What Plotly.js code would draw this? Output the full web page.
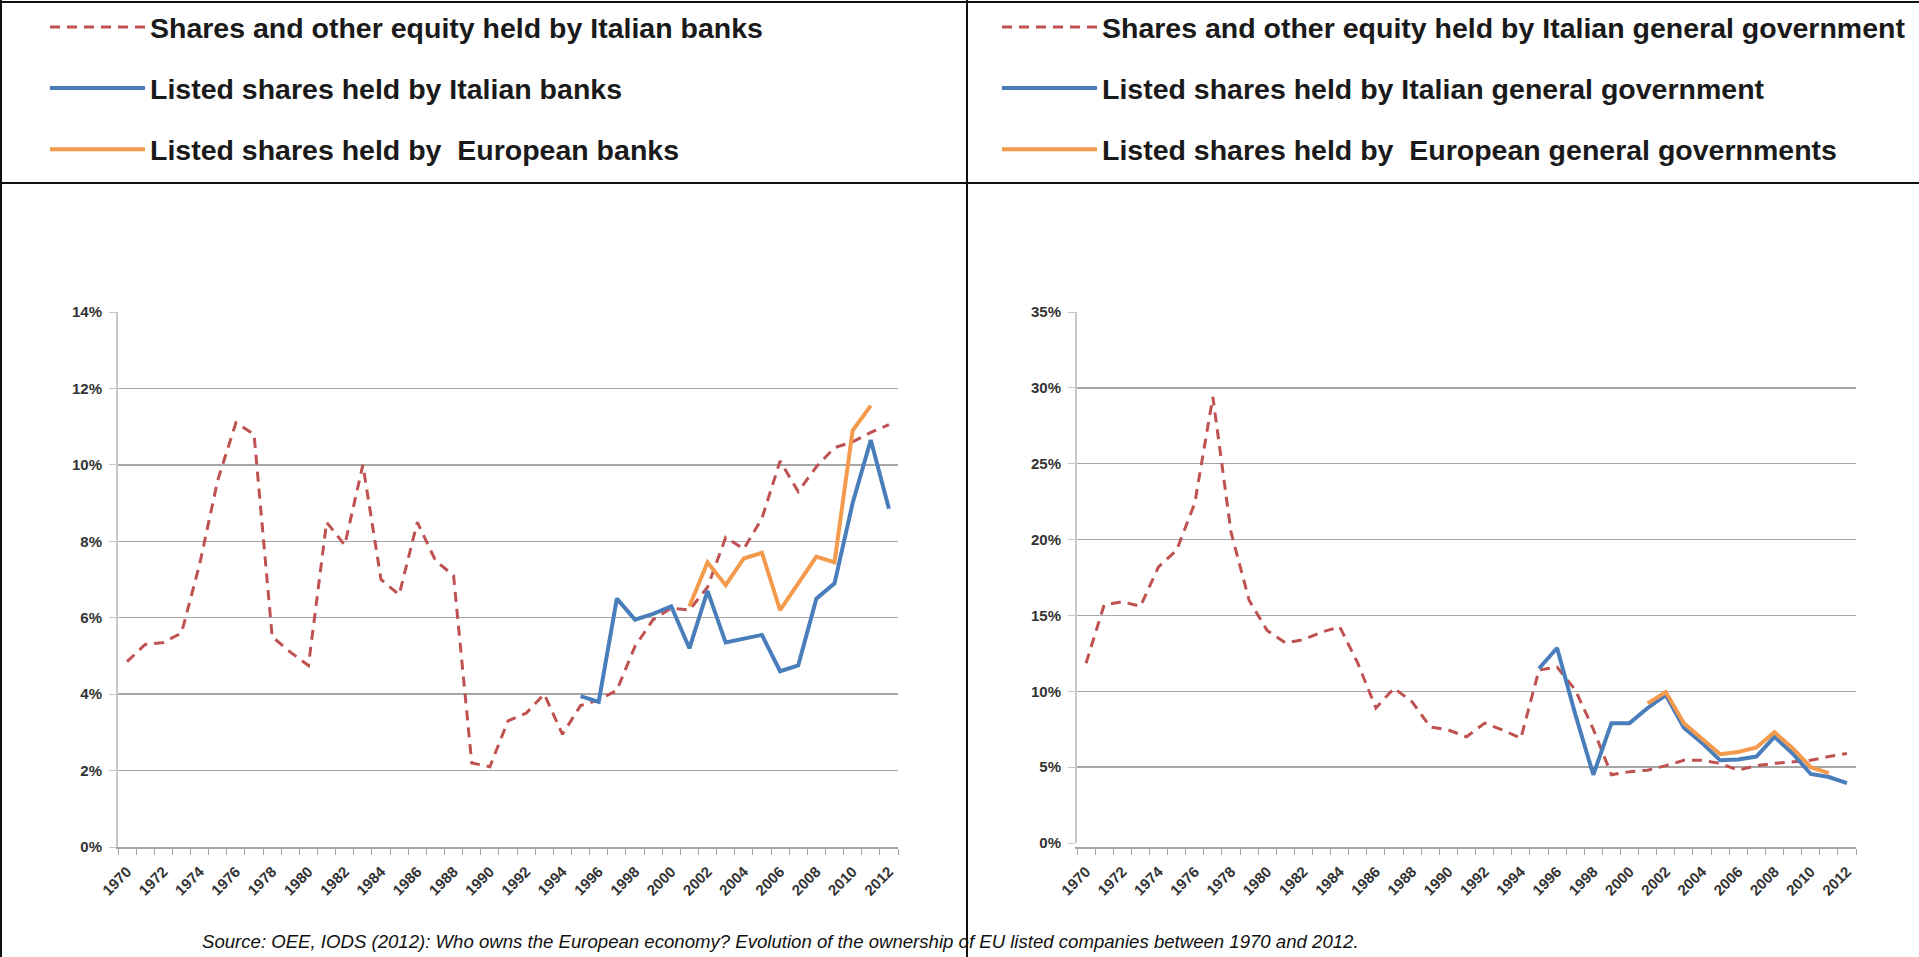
<!DOCTYPE html>
<html>
<head>
<meta charset="utf-8">
<script src="https://cdn.plot.ly/plotly-3.0.1.min.js"></script>
<style>html,body{margin:0;padding:0;background:#fff;}#chart{width:1919px;height:957px;}</style>
</head>
<body>
<div id="chart"></div>
<script>
// ---- Data (values in %) ----
const years = [1970,1971,1972,1973,1974,1975,1976,1977,1978,1979,1980,1981,1982,1983,1984,1985,1986,1987,1988,1989,1990,1991,1992,1993,1994,1995,1996,1997,1998,1999,2000,2001,2002,2003,2004,2005,2006,2007,2008,2009,2010,2011,2012];
const yearTicks = [1970,1972,1974,1976,1978,1980,1982,1984,1986,1988,1990,1992,1994,1996,1998,2000,2002,2004,2006,2008,2010,2012];

// Left panel: banks
const banksEquityIT = [4.85,5.3,5.35,5.6,7.4,9.6,11.1,10.8,5.5,5.1,4.75,8.5,7.9,10.0,7.0,6.6,8.5,7.5,7.1,2.2,2.1,3.3,3.5,4.0,2.95,3.7,3.85,4.1,5.25,5.95,6.25,6.2,6.8,8.1,7.8,8.6,10.1,9.3,9.95,10.45,10.6,10.85,11.05];
const banksListedIT = [null,null,null,null,null,null,null,null,null,null,null,null,null,null,null,null,null,null,null,null,null,null,null,null,null,3.95,3.8,6.5,5.95,6.1,6.3,5.2,6.7,5.35,5.45,5.55,4.6,4.75,6.5,6.9,9.0,10.65,8.85];
const banksListedEU = [null,null,null,null,null,null,null,null,null,null,null,null,null,null,null,null,null,null,null,null,null,null,null,null,null,null,null,null,null,null,null,6.3,7.45,6.85,7.55,7.7,6.2,6.9,7.6,7.45,10.9,11.55,null];

// Right panel: general government
const govEquityIT = [11.85,15.7,15.9,15.6,18.2,19.3,22.4,29.4,20.5,16.0,14.0,13.2,13.4,13.9,14.25,11.85,8.9,10.2,9.3,7.65,7.45,7.0,7.9,7.45,6.9,11.4,11.6,10.1,7.5,4.5,4.7,4.8,5.1,5.45,5.45,5.25,4.8,5.1,5.25,5.35,5.45,5.7,5.9];
const govListedIT = [null,null,null,null,null,null,null,null,null,null,null,null,null,null,null,null,null,null,null,null,null,null,null,null,null,11.5,12.85,8.5,4.5,7.9,7.9,8.9,9.75,7.6,6.6,5.45,5.5,5.7,7.0,5.9,4.55,4.35,3.95];
const govListedEU = [null,null,null,null,null,null,null,null,null,null,null,null,null,null,null,null,null,null,null,null,null,null,null,null,null,null,null,null,null,null,null,9.2,9.95,7.9,6.85,5.85,6.0,6.3,7.3,6.25,5.0,4.6,null];

const names = {
  bEqIT: "Shares and other equity held by Italian banks",
  bLIT: "Listed shares held by Italian banks",
  bLEU: "Listed shares held by  European banks",
  gEqIT: "Shares and other equity held by Italian general government",
  gLIT: "Listed shares held by Italian general government",
  gLEU: "Listed shares held by  European general governments"
};
const sourceText = "Source: OEE, IODS (2012): Who owns the European economy? Evolution of the ownership of EU listed companies between 1970 and 2012.";

// ---- Styling ----
const W = 1919, H = 957;
const fx = v => v / W;
const fy = v => 1 - v / H;
const RED = "#bf5250", BLUE = "#4a7ebb", ORANGE = "#f39a4c";
const dashStyle = "10px,7px";

function trace(y, name, color, dash, width, xa, ya, lg, grp) {
  return {
    x: years, y: y, name: name, type: "scatter", mode: "lines",
    xaxis: xa, yaxis: ya, legend: lg, legendgroup: grp,
    connectgaps: false,
    line: {color: color, width: width, dash: dash},
    hoverinfo: "x+y"
  };
}

const data = [
  trace(banksEquityIT, names.bEqIT, RED, dashStyle, 3, "x", "y", "legend", "a1"),
  trace(banksListedIT, names.bLIT, BLUE, "solid", 4, "x", "y", "legend", "a2"),
  trace(banksListedEU, names.bLEU, ORANGE, "solid", 4, "x", "y", "legend", "a3"),
  trace(govEquityIT, names.gEqIT, RED, dashStyle, 3, "x2", "y2", "legend2", "b1"),
  trace(govListedIT, names.gLIT, BLUE, "solid", 4, "x2", "y2", "legend2", "b2"),
  trace(govListedEU, names.gLEU, ORANGE, "solid", 4, "x2", "y2", "legend2", "b3")
];

const tickFont = {family: "Liberation Sans, Arial, sans-serif", size: 15, color: "#333333", weight: "bold"};
function xAxis(domain) {
  return {
    domain: domain, range: [1969.5, 2012.5], type: "linear",
    tickmode: "array", tickvals: yearTicks, ticktext: yearTicks.map(String),
    tickangle: -45, tickfont: tickFont, ticks: "", ticklabelstandoff: 8,
    showline: true, linecolor: "#a6a6a6", linewidth: 2,
    showgrid: false, zeroline: false, fixedrange: true,
    minor: {ticks: "outside", tick0: 1969.5, dtick: 1, ticklen: 6, tickcolor: "#a6a6a6", tickwidth: 1}
  };
}
function yAxis(domain, max, dtick, anchor) {
  return {
    domain: domain, range: [0, max], dtick: dtick, tick0: 0, ticksuffix: "%",
    anchor: anchor, tickfont: tickFont,
    showgrid: true, gridcolor: "#a6a6a6", gridwidth: 1.5,
    showline: true, linecolor: "#c8c8c8", linewidth: 2,
    ticks: "outside", ticklen: 7, tickcolor: "#c8c8c8", ticklabelstandoff: 4,
    zeroline: false, fixedrange: true
  };
}

const legendFont = {family: "Liberation Sans, Arial, sans-serif", size: 28.5, color: "#1a1a1a", weight: "bold"};
function legendCfg(xpix) {
  return {
    x: fx(xpix), y: fy(2), xanchor: "left", yanchor: "top",
    orientation: "v", font: legendFont, bgcolor: "rgba(0,0,0,0)",
    borderwidth: 0, tracegroupgap: 21, itemwidth: 95, traceorder: "grouped",
    itemclick: false, itemdoubleclick: false
  };
}

const lineK = {color: "#111", width: 2};
const layout = {
  width: W, height: H,
  margin: {l: 0, r: 0, t: 0, b: 0, autoexpand: false},
  paper_bgcolor: "#ffffff", plot_bgcolor: "#ffffff",
  showlegend: true,
  xaxis: xAxis([fx(118), fx(898)]),
  yaxis: yAxis([fy(847), fy(312)], 14, 2, "x"),
  xaxis2: xAxis([fx(1077), fx(1856)]),
  yaxis2: yAxis([fy(843), fy(312)], 35, 5, "x2"),
  legend: legendCfg(45),
  legend2: legendCfg(997),
  shapes: [
    {type: "line", xref: "paper", yref: "paper", x0: 0, x1: 1, y0: fy(2), y1: fy(2), line: lineK},
    {type: "line", xref: "paper", yref: "paper", x0: fx(1), x1: fx(1), y0: 0, y1: 1, line: lineK},
    {type: "line", xref: "paper", yref: "paper", x0: 0, x1: 1, y0: fy(183), y1: fy(183), line: lineK},
    {type: "line", xref: "paper", yref: "paper", x0: fx(967), x1: fx(967), y0: 0, y1: 1, line: lineK}
  ],
  annotations: [
    {xref: "paper", yref: "paper", x: fx(200), y: fy(941), xanchor: "left", yanchor: "middle",
     showarrow: false, text: sourceText,
     font: {family: "Liberation Sans, Arial, sans-serif", size: 18.6, color: "#111", style: "italic"}}
  ]
};

Plotly.newPlot("chart", data, layout, {displayModeBar: false, staticPlot: true});
</script>
</body>
</html>
